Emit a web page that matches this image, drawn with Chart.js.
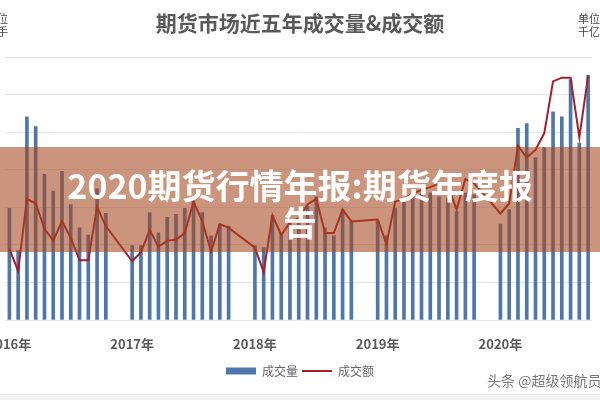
<!DOCTYPE html>
<html>
<head>
<meta charset="utf-8">
<script src="https://cdn.jsdelivr.net/npm/chart.js@4.4.1/dist/chart.umd.min.js"></script>
<style>
  html, body { margin: 0; padding: 0; background: #fff; }
  body { width: 600px; height: 400px; position: relative; overflow: hidden; font-family: "Noto Sans CJK SC", "Noto Sans", sans-serif; }
  #wrap { position: absolute; left: -40px; top: 0; width: 680px; height: 400px; }
  .title { position: absolute; left: 0; top: 7px; width: 600px; text-align: center; font-size: 21px; font-weight: bold; color: #595959; }
  .unit { position: absolute; top: 12px; font-size: 11px; line-height: 13px; color: #444; }
  .unit.left { left: -44px; width: 52px; text-align: right; }
  .unit.right { left: 578px; width: 40px; }
  .mark { position: absolute; left: 487px; top: 370px; font-size: 14px; color: #777; white-space: nowrap; }
  .foot { position: absolute; left: 0; top: 394px; width: 600px; height: 6px; background: #f4f4f4; border-top: 1px solid #e8e8e8; }
  .banner { position: absolute; left: 0; top: 147px; width: 600px; height: 105px; background: rgba(165, 70, 30, 0.58); }
  .banner div { position: absolute; left: 0; top: 19px; width: 600px; text-align: center; color: #fff; font-size: 34px; line-height: 37px; font-weight: bold; }
</style>
</head>
<body>
<div id="wrap"><canvas id="chart"></canvas></div>
<div class="title">期货市场近五年成交量&amp;成交额</div>
<div class="unit left">单位<br>亿手</div>
<div class="unit right">单位<br>千亿</div>
<div class="mark">头条 @超级领航员</div>
<div class="foot"></div>
<div class="banner"><div>2020期货行情年报:期货年度报<br>告</div></div>
<script>
// monthly data, Jan 2016 - Nov 2020
const years = ['2016年', '2017年', '2018年', '2019年', '2020年'];
// 成交量 (亿手)
const volume = [
    [2.97, 1.85, 5.41, 5.15, 3.88, 3.43, 3.96, 3.07, 2.45, 2.26, 3.49, 2.84],
    [1.98, 1.98, 2.86, 2.32, 2.73, 2.81, 2.97, 3.17, 2.86, 2.24, 2.55, 2.50],
    [1.98, 1.93, 2.78, 2.32, 2.63, 2.58, 3.02, 3.28, 2.45, 2.24, 2.94, 2.63],
    [2.63, 2.24, 2.97, 3.15, 3.28, 3.36, 3.38, 3.28, 3.23, 2.89, 3.38, 3.33],
    [2.55, 2.94, 5.10, 5.23, 4.32, 4.58, 5.54, 5.41, 6.40, 4.71, 6.51]
];
// 成交额 (千亿)
const turnover = [
    [152, 104, 258, 248, 194, 169, 210, 175, 127, 127, 241, 200],
    [125, 144, 192, 156, 169, 171, 185, 252, 210, 146, 204, 196],
    [154, 102, 223, 181, 208, 217, 246, 258, 185, 185, 235, 210],
    [214, 162, 252, 258, 269, 277, 283, 291, 287, 235, 300, 291],
    [227, 248, 371, 346, 362, 398, 508, 516, 516, 389, 520]
];
const gapSlots = 2; // empty categories between years

const labels = [];
const volData = [];
const amtData = [];
years.forEach((year, i) => {
    if (i > 0) {
        for (let g = 0; g < gapSlots; g++) {
            labels.push('');
            volData.push(null);
            amtData.push(null);
        }
    }
    volume[i].forEach((v, m) => {
        labels.push(m === 0 ? year : '');
        volData.push(v);
        amtData.push(turnover[i][m]);
    });
});

Chart.defaults.font.family = '"Noto Sans CJK SC", "Noto Sans", sans-serif';

new Chart(document.getElementById('chart'), {
    type: 'bar',
    data: {
        labels: labels,
        datasets: [{
            type: 'bar',
            label: '成交量',
            data: volData,
            backgroundColor: '#4e78ab',
            barThickness: 3,
            pointStyle: 'rect',
            yAxisID: 'y',
            order: 2
        }, {
            type: 'line',
            label: '成交额',
            data: amtData,
            borderColor: '#a61e2a',
            borderWidth: 2,
            pointRadius: 0,
            pointStyle: 'line',
            tension: 0,
            spanGaps: true,
            fill: false,
            yAxisID: 'y1',
            order: 1
        }]
    },
    options: {
        responsive: true,
        maintainAspectRatio: false,
        animation: false,
        layout: { padding: { top: 57, bottom: 13, left: 0, right: 0 } },
        plugins: {
            legend: {
                position: 'bottom',
                labels: {
                    usePointStyle: true,
                    pointStyleWidth: 30,
                    boxHeight: 7,
                    padding: 4,
                    color: '#666',
                    font: { size: 12 },
                    sort: (a, b) => a.datasetIndex - b.datasetIndex
                }
            },
            tooltip: { enabled: false }
        },
        scales: {
            x: {
                grid: { display: false },
                border: { display: false },
                ticks: { autoSkip: false, maxRotation: 0, padding: 8, color: '#595959', font: { size: 13, weight: 'bold' } },
                afterFit(s) { s.height = 41; }
            },
            y: {
                position: 'left',
                min: 0,
                max: 7,
                ticks: { stepSize: 1, padding: 14, color: '#666' },
                grid: { color: '#e6e6e6', drawTicks: false },
                border: { display: false },
                afterFit(s) { s.width = 45; }
            },
            y1: {
                position: 'right',
                min: 0,
                max: 560,
                ticks: { stepSize: 80, padding: 14, color: '#666' },
                grid: { drawOnChartArea: false, drawTicks: false },
                border: { display: false },
                afterFit(s) { s.width = 47.5; }
            }
        }
    }
});
</script>
</body>
</html>
